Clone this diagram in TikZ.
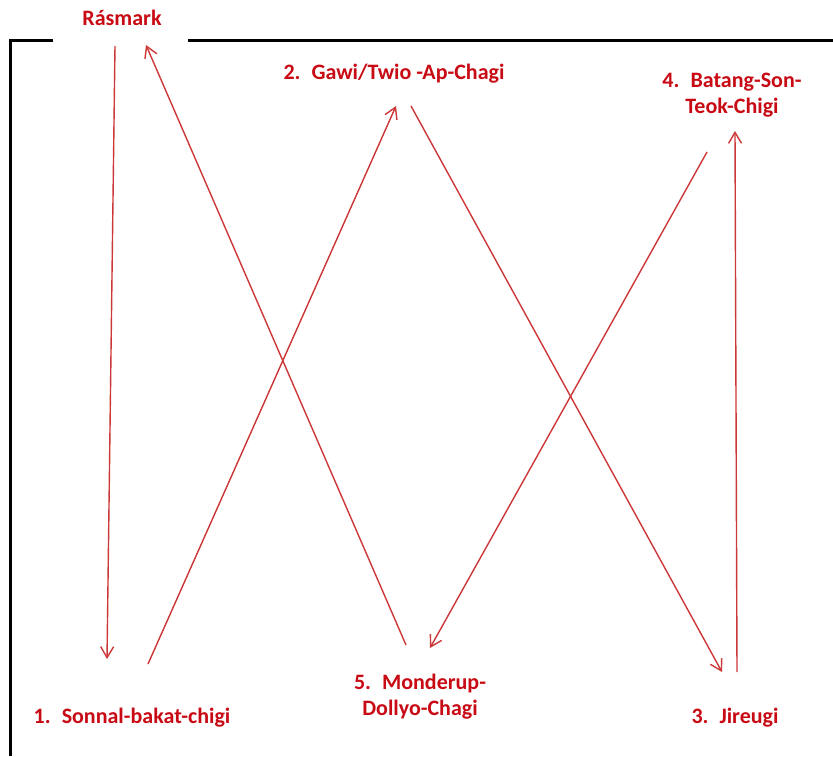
\documentclass[tikz,border=0pt]{standalone}
\usepackage{fontspec}
\setmainfont{Carlito}
\usetikzlibrary{arrows.meta}
\definecolor{labred}{RGB}{200,10,20}
\definecolor{arrred}{RGB}{205,55,55}
\tikzset{
    label text/.style={text=labred, font=\bfseries\fontsize{22}{26}\selectfont, align=center, inner sep=0pt},
    flow/.style={draw=arrred, line width=1.4pt, -{Straight Barb[length=11pt,width=13pt,line width=1.4pt]}}
}
\begin{document}
\begin{tikzpicture}[x=1pt, y=-1pt]
        \useasboundingbox (0,0) rectangle (833,756);
        % frame
        \draw [line width=3pt] (53,40) -- (10,40) -- (10,756);
        \draw [line width=3pt] (188,40) -- (833,40);
        % labels
        \node[label text] (ras) at (122,18) {Rásmark};
        \node[label text] (one) at (132,718) {1.\enspace Sonnal-bakat-chigi};
        \node[label text] (two) at (394,74) {2.\enspace Gawi/Twio -Ap-Chagi};
        \node[label text] (three) at (735,718) {3.\enspace Jireugi};
        \node[label text] (four) at (732,95) {4.\enspace Batang-Son-\\Teok-Chigi};
        \node[label text] (five) at (420,697) {5.\enspace Monderup-\\Dollyo-Chagi};
        % arrow ends
        \coordinate (ras-out) at (115,46);
        \coordinate (ras-in) at (146,45);
        \coordinate (one-in) at (107,659);
        \coordinate (one-out) at (148,664);
        \coordinate (two-in) at (396,106);
        \coordinate (two-out) at (411,106);
        \coordinate (three-in) at (722,672);
        \coordinate (three-out) at (737,672);
        \coordinate (four-in) at (735,131);
        \coordinate (four-out) at (707,152);
        \coordinate (five-in) at (430,648);
        \coordinate (five-out) at (406,645);
        % sequence
        \foreach \a/\b in {ras/one, one/two, two/three, three/four, four/five, five/ras}{
            \draw[flow] (\a-out) -- (\b-in);
        }
    \end{tikzpicture}
\end{document}
